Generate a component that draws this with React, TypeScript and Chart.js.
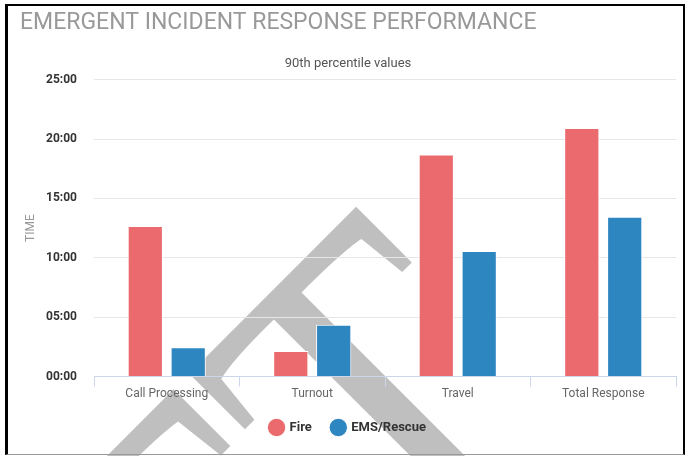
import React, { useEffect, useRef } from "react";
import { Chart, registerables } from "chart.js";

Chart.register(...registerables);

const categories = ["Call Processing", "Turnout", "Travel", "Total Response"];
// values in seconds (90th percentile)
const fireSeconds = [761, 129, 1122, 1256];
const emsSeconds = [148, 262, 635, 807];
const seriesNames = ["Fire", "EMS/Rescue"];
const yMaxSeconds = 1500;
const yStepSeconds = 300;
const watermarkText = "DRAFT";

function mmss(v: number): string {
  const m = Math.floor(v / 60);
  const s = Math.round(v % 60);
  return String(m).padStart(2, "0") + ":" + String(s).padStart(2, "0");
}

const watermarkPlugin = {
  id: "watermark",
  beforeDraw(chart: any) {
    const ctx = chart.ctx;
    ctx.save();
    ctx.translate(598, 439);
    ctx.rotate(-Math.PI / 4);
    ctx.scale(0.8, 1);
    ctx.fillStyle = "#bfbfbf";
    ctx.font = "512px 'Liberation Serif'";
    ctx.textAlign = "right";
    ctx.textBaseline = "alphabetic";
    ctx.fillText(watermarkText, 0, 0);
    ctx.restore();
  },
};

export default function App() {
  const ref = useRef<HTMLCanvasElement | null>(null);

  useEffect(() => {
    if (!ref.current) return;
    const chart = new Chart(ref.current, {
      type: "bar",
      data: {
        labels: categories,
        datasets: [
          {
            label: seriesNames[0],
            data: fireSeconds,
            backgroundColor: "#eb6a6e",
            borderColor: "#ffffff",
            borderWidth: 1,
            categoryPercentage: 0.59,
            barPercentage: 0.82,
          },
          {
            label: seriesNames[1],
            data: emsSeconds,
            backgroundColor: "#2e86c1",
            borderColor: "#ffffff",
            borderWidth: 1,
            categoryPercentage: 0.59,
            barPercentage: 0.82,
          },
        ],
      },
      plugins: [watermarkPlugin],
      options: {
        responsive: false,
        animation: false,
        layout: { padding: { left: 20, right: 16, top: 4, bottom: 12 } },
        plugins: {
          tooltip: { enabled: false },
          title: {
            display: true,
            text: "EMERGENT INCIDENT RESPONSE PERFORMANCE",
            align: "start",
            color: "#999999",
            font: { family: "Roboto", size: 23, weight: "normal" },
            padding: { top: 5, bottom: 8 },
          },
          subtitle: {
            display: true,
            text: "90th percentile values",
            color: "#555555",
            font: { family: "Roboto", size: 13, weight: "normal" },
            padding: { top: 11, bottom: 8.5 },
          },
          legend: {
            position: "bottom",
            labels: {
              usePointStyle: true,
              pointStyle: "circle",
              boxWidth: 13,
              boxHeight: 13,
              padding: 20,
              color: "#333333",
              font: { family: "Roboto", size: 13, weight: "bold" },
            },
          },
        },
        scales: {
          x: {
            grid: {
              offset: true,
              drawOnChartArea: false,
              color: "#ccd6eb",
              tickLength: 10,
            },
            border: { color: "#ccd6eb" },
            ticks: {
              color: "#666666",
              font: { family: "Roboto", size: 12 },
              padding: 0,
            },
          },
          y: {
            min: 0,
            max: yMaxSeconds,
            afterFit: (scale: any) => {
              scale.width = 74;
            },
            grid: { color: "#e6e6e6", drawTicks: false },
            border: { display: false },
            ticks: {
              stepSize: yStepSeconds,
              padding: 17,
              color: "#333333",
              font: { family: "Roboto", size: 12, weight: "bold" },
              callback: (v: any) => mmss(Number(v)),
            },
            title: {
              display: true,
              text: "TIME",
              color: "#999999",
              font: { family: "Roboto", size: 12 },
            },
          },
        },
      },
    });
    return () => chart.destroy();
  }, []);

  return (
    <div
      style={{
        position: "fixed",
        left: 0,
        top: 0,
        width: 692,
        height: 456,
        background: "#ffffff",
        overflow: "hidden",
      }}
    >
      <canvas ref={ref} width={692} height={456} style={{ display: "block" }} />
      <div
        style={{
          position: "absolute",
          left: 5,
          top: 4,
          width: 680,
          height: 451,
          boxSizing: "border-box",
          borderLeft: "3px solid #000",
          borderTop: "2px solid #000",
          borderRight: "2px solid #000",
          borderBottom: "1px solid #999",
          pointerEvents: "none",
        }}
      />
    </div>
  );
}
